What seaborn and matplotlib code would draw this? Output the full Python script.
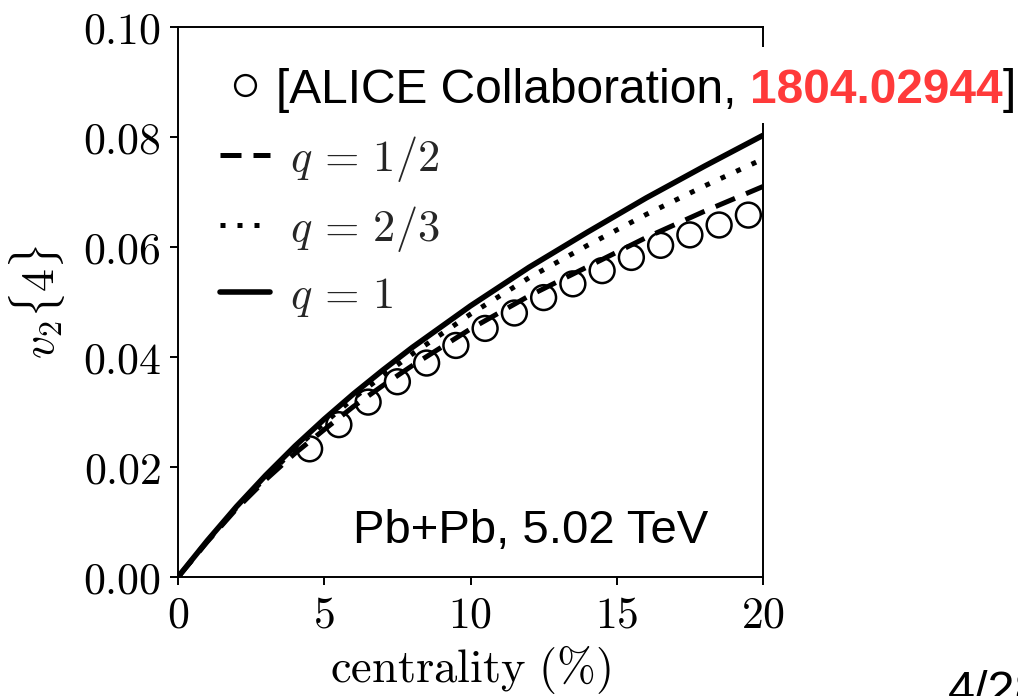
import numpy as np
import pandas as pd
import matplotlib
matplotlib.use("Agg")
import matplotlib.pyplot as plt
from matplotlib.lines import Line2D
from matplotlib.patches import Rectangle
from matplotlib.ticker import FixedLocator, FuncFormatter
import seaborn as sns

# ALICE v2{4} points
cent_data = [4.5, 5.5, 6.5, 7.5, 8.5, 9.5, 10.5, 11.5, 12.5, 13.5, 14.5, 15.5, 16.5, 17.5, 18.5, 19.5]
v24_data = [0.0233, 0.0277, 0.0318, 0.0355, 0.0389, 0.0421, 0.0452, 0.0480,
            0.0508, 0.0533, 0.0557, 0.0581, 0.0603, 0.0622, 0.0640, 0.0658]

# model curves for three values of q
cent_model = [0, 1, 2, 3, 4, 5, 6, 7, 8, 10, 12, 14, 16, 18, 20]
v24_q12 = [0, 0.0064, 0.0124, 0.0177, 0.0225, 0.0268, 0.0310, 0.0348, 0.0384,
           0.0451, 0.0511, 0.0564, 0.0617, 0.0665, 0.0710]
v24_q23 = [0, 0.0065, 0.0126, 0.0181, 0.0233, 0.0280, 0.0325, 0.0366, 0.0405,
           0.0478, 0.0544, 0.0603, 0.0659, 0.0711, 0.0760]
v24_q1 = [0, 0.0066, 0.0128, 0.0185, 0.0238, 0.0287, 0.0333, 0.0376, 0.0417,
          0.0493, 0.0563, 0.0627, 0.0689, 0.0747, 0.0803]

model_labels = [r"$q\,=\,1/2$", r"$q\,=\,2/3$", r"$q\,=\,1$"]
x_ticks = [0, 5, 10, 15, 20]
y_ticks = [0.00, 0.02, 0.04, 0.06, 0.08, 0.10]

sns.set_theme(style="ticks")
plt.rcParams.update({
    "mathtext.fontset": "cm",
    "axes.linewidth": 1.4,
    "xtick.major.width": 1.4,
    "ytick.major.width": 1.4,
    "xtick.major.size": 6,
    "ytick.major.size": 6,
    "xtick.direction": "out",
    "ytick.direction": "out",
    "axes.edgecolor": "black",
})
plt.rcParams["font.family"] = ["DejaVu Sans"]

W, H = 1018, 696
fig = plt.figure(figsize=(W / 100, H / 100), dpi=100)
fig.patch.set_facecolor("white")
ax = fig.add_axes([178 / W, 1 - 577 / H, 585 / W, 550 / H])

df_model = pd.DataFrame({"cent": cent_model, "q12": v24_q12, "q23": v24_q23, "q1": v24_q1})
styles = [("q12", (0, (4.2, 2.4)), 3.6),
          ("q23", (0, (1.0, 2.4)), 3.6),
          ("q1", "-", 4.0)]
for col, ls, lw in styles:
    sns.lineplot(data=df_model, x="cent", y=col, ax=ax, color="black",
                 linestyle=ls, linewidth=lw, zorder=2)

df_data = pd.DataFrame({"cent": cent_data, "v24": v24_data})
sns.scatterplot(data=df_data, x="cent", y="v24", ax=ax, marker="o", s=320,
                facecolor="none", edgecolor="black", linewidth=1.8, zorder=3)

ax.set_xlim(0, 20)
ax.set_ylim(0, 0.10)
ax.xaxis.set_major_locator(FixedLocator(x_ticks))
ax.yaxis.set_major_locator(FixedLocator(y_ticks))
ax.xaxis.set_major_formatter(FuncFormatter(lambda v, p: rf"${v:.0f}$"))
ax.yaxis.set_major_formatter(FuncFormatter(lambda v, p: rf"${v:.2f}$"))
ax.tick_params(axis="both", labelsize=31.5, colors="black", pad=6)
ax.tick_params(top=False, right=False)
for s in ax.spines.values():
    s.set_visible(True)
    s.set_color("black")

ax.set_xlabel(r"$\mathrm{centrality\ (\%)}$", fontsize=33.5, color="black")
ax.set_ylabel(r"$v_2\{4\}$", fontsize=33, color="black")
ax.xaxis.set_label_coords(0.5, -0.12)
ax.yaxis.set_label_coords(-0.19, 0.5)

handles = [
    Line2D([], [], marker="o", ls="", mfc="none", mec="black", ms=15, mew=1.7),
    Line2D([], [], color="black", ls=(0, (4.2, 2.4)), lw=3.6),
    Line2D([], [], color="black", ls=(0, (1.0, 2.4)), lw=3.6),
    Line2D([], [], color="black", ls="-", lw=4.0),
]
labels = [model_labels[0]] + model_labels
leg = ax.legend(handles, labels, loc="upper left", frameon=False,
                bbox_to_anchor=(220 / W, 1 - 64 / H), bbox_transform=fig.transFigure,
                fontsize=32, handlelength=1.125, handletextpad=0.45,
                labelspacing=0.45, borderpad=0, borderaxespad=0)
leg.get_texts()[0].set_alpha(0)

# reference label for the data points
fig.add_artist(Rectangle((265 / W, 1 - 123 / H), (W - 265) / W, 76 / H,
                         transform=fig.transFigure, facecolor="white",
                         edgecolor="none", zorder=2.5))
base_y = 1 - 103 / H
t1 = fig.text(276 / W, base_y, "[ALICE Collaboration, ", fontsize=34.5,
              family="Liberation Sans", color="black", va="baseline", zorder=3)
t2 = fig.text(0, 0, "1804.02944", fontsize=34.5, family="Liberation Sans",
              weight="bold", color="#ff3a3a", va="baseline", zorder=3)
t3 = fig.text(0, 0, "]", fontsize=34.5, family="Liberation Sans",
              color="black", va="baseline", zorder=3)

fig.canvas.draw()
r = fig.canvas.get_renderer()
bb1 = t1.get_window_extent(r)
t2.set_position((bb1.x1 / W, base_y))
bb2 = t2.get_window_extent(r)
t3.set_position((bb2.x1 / W, base_y))

fig.text(353 / W, 1 - 543 / H, "Pb+Pb, 5.02 TeV", fontsize=34,
         family="Liberation Sans", color="black", va="baseline")
fig.text(948 / W, 1 - 670 / H, "4/28", fontsize=35,
         family="Liberation Sans", color="black", va="top")

fig.savefig("out.png", dpi=100, facecolor="white")
